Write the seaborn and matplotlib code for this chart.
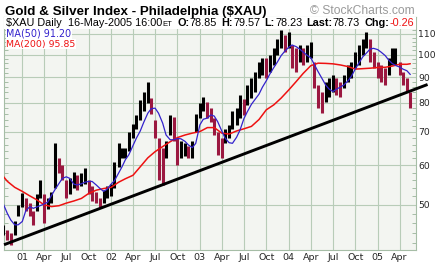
import numpy as np
import pandas as pd
import matplotlib
matplotlib.use("Agg")
import matplotlib.pyplot as plt
import matplotlib.ticker as mticker
from matplotlib.patches import Rectangle
import seaborn as sns

# ---------------- data ----------------
bar_dates = pd.date_range("2000-10-15", "2005-05-15", freq="SMS")  # half-month bars
bar_high = [45.6, 44.5, 44.0, 46.5, 50.0,
            52.8, 51.5, 50.5, 48.5, 52.5, 56.1, 52.5, 51.5, 53.0, 66.4, 62.0, 60.0,
            56.0, 56.5, 58.3, 57.5, 58.0, 59.2, 56.0, 54.5, 53.0, 51.5, 53.5, 54.5,
            55.0, 61.0, 66.4, 65.0, 65.0, 70.0, 72.5, 75.7, 81.0, 84.0, 88.3, 82.0,
            74.0, 68.0, 65.0, 67.0, 75.7, 75.0, 68.0, 67.0, 66.5, 65.5, 67.0, 76.0,
            80.0, 82.4, 80.5, 78.0, 74.6, 70.0, 68.0, 71.0, 72.3, 77.0, 78.0, 83.0,
            81.5, 86.9, 89.6, 92.4, 96.8, 98.3, 98.3, 99.8, 103.0, 107.5, 112.0, 109.5,
            111.0, 104.5, 103.0, 104.5, 103.0, 104.5, 106.0, 96.8, 87.0, 84.3, 88.0, 89.6,
            91.0, 89.6, 88.0, 91.0, 95.3, 96.8, 101.4, 104.5, 107.5, 111.0, 107.5, 101.4,
            96.8, 95.3, 93.9, 98.3, 103.0, 103.0, 96.8, 92.4, 89.6, 84.3]
bar_low = [43.5, 42.5, 41.6, 43.5, 47.5,
           49.5, 48.5, 47.5, 45.6, 48.5, 51.5, 46.0, 49.0, 50.5, 54.0, 58.0, 56.0,
           51.5, 52.5, 54.0, 53.5, 54.5, 55.0, 52.5, 51.0, 50.5, 49.5, 50.5, 51.5,
           52.0, 54.0, 59.5, 62.0, 62.0, 64.0, 68.0, 71.0, 74.0, 77.0, 80.0, 76.0,
           68.0, 56.0, 54.8, 62.0, 69.0, 67.0, 60.0, 62.0, 62.5, 62.0, 62.0, 70.0,
           74.5, 77.0, 74.5, 73.4, 69.0, 63.0, 62.0, 66.4, 68.0, 71.0, 72.3, 74.6,
           75.7, 79.3, 82.0, 84.3, 89.6, 91.0, 89.6, 92.4, 95.3, 99.8, 103.0, 101.4,
           103.0, 94.0, 92.4, 96.8, 95.3, 96.8, 98.3, 85.6, 78.0, 76.3, 80.5, 82.4,
           84.3, 83.0, 82.4, 85.6, 88.3, 89.6, 93.9, 95.3, 99.8, 103.0, 96.8, 93.9,
           89.6, 88.3, 86.9, 91.0, 95.3, 95.3, 91.0, 86.9, 84.3, 78.2]
ma50_values = [50.2, 48.0, 46.6, 45.6, 45.6, 46.3, 48.6, 49.6, 49.2, 49.5,
               49.8, 50.2, 50.6, 52.2, 53.6, 55.2, 56.5, 56.9, 56.5, 55.0,
               54.8, 55.1, 55.5, 55.7, 55.7, 54.8, 54.0, 53.2, 53.7, 55.0,
               55.9, 57.9, 59.6, 61.6, 63.0, 65.7, 68.0, 70.3, 73.1, 76.3,
               77.9, 78.1, 76.3, 72.9, 69.0, 67.5, 67.5, 67.9, 67.8, 67.0,
               65.9, 65.1, 66.4, 72.3, 74.2, 74.6, 75.7, 75.3, 73.4, 70.3,
               68.0, 66.6, 66.4, 68.3, 70.6, 74.4, 76.8, 79.5, 81.2, 83.3,
               86.0, 88.6, 91.3, 94.2, 96.5, 99.5, 101.4, 103.4, 104.5, 103.7,
               102.6, 101.1, 99.8, 98.5, 95.6, 92.4, 89.9, 86.9, 85.3, 84.3,
               85.2, 86.1, 86.9, 88.6, 90.5, 93.6, 96.0, 99.0, 100.6, 102.6,
               102.9, 102.3, 101.1, 99.5, 97.5, 96.0, 95.1, 94.4, 93.5, 92.8, 91.2]
ma200_dates = (pd.to_datetime(["2000-10-15"])
               .append(pd.date_range("2000-11-01", "2005-05-01", freq="MS"))
               .append(pd.to_datetime(["2005-05-15"])))
ma200_values = [57.0, 55.7, 54.2,
                53.2, 52.1, 51.2, 50.0, 49.6, 49.8, 50.4, 50.9, 51.5, 52.7, 53.5, 53.9,
                54.2, 55.5, 56.4, 57.3, 59.6, 62.1, 63.9, 65.4, 66.9, 68.2, 69.0, 69.6,
                70.1, 71.4, 71.4, 69.6, 69.3, 70.3, 71.0, 71.8, 74.1, 77.5, 79.3, 81.8,
                84.9, 88.3, 91.7, 95.0, 96.1, 96.0, 95.8, 95.3, 94.6, 93.5, 93.7, 93.9,
                94.2, 94.3, 94.8, 95.6, 95.6, 95.85]
trend_dates = pd.to_datetime(["2000-10-18", "2005-07-25"])
trend_values = [41.6, 87.1]
price_ticks = [50, 60, 70, 80, 90, 100, 110]
minor_ticks = [v for v in range(42, 119, 2) if v % 10 != 0]
quarter_starts = pd.date_range("2001-01-01", "2005-04-01", freq="QS")
quarter_labels = ["01", "Apr", "Jul", "Oct", "02", "Apr", "Jul", "Oct",
                  "03", "Apr", "Jul", "Oct", "04", "Apr", "Jul", "Oct", "05", "Apr"]

assert len(bar_dates) == len(bar_high) == len(bar_low) == len(ma50_values)
assert len(ma200_dates) == len(ma200_values)

# ---------------- style ----------------
sns.set_theme(style="white")
plt.rcParams["font.family"] = ["DejaVu Sans"]

GRID = "#B8CCB8"
SPINE = "#A6BDA6"
BG = "#F3F5F1"
UP = "#000000"
DOWN = "#9B1840"
BLUE = "#3322CC"
RED = "#EE1111"

W, H = 439, 265
fig = plt.figure(figsize=(W / 100, H / 100), dpi=100)
fig.patch.set_facecolor("white")
ax = fig.add_axes([4 / W, 15 / H, 412 / W, 233 / H])
ax.set_facecolor(BG)
ax.set_yscale("log")

# price bars
hi = np.array(bar_high)
lo = np.array(bar_low)
mid = (hi + lo) / 2
cols = [UP] + [UP if mid[i] >= mid[i - 1] else DOWN for i in range(1, len(mid))]
ax.vlines(bar_dates, lo, hi, colors=cols, lw=2.2, zorder=3)

# moving averages and trend line
sns.lineplot(x=ma200_dates, y=ma200_values, ax=ax, color=RED, lw=1.1, zorder=4, legend=False)
sns.lineplot(x=bar_dates, y=ma50_values, ax=ax, color=BLUE, lw=0.9, zorder=4, legend=False)
sns.lineplot(x=trend_dates, y=trend_values, ax=ax, color="black", lw=2.1, zorder=5,
             legend=False, clip_on=False, solid_capstyle="butt")

ax.set_xlim(pd.Timestamp("2000-10-17 20:00"), pd.Timestamp("2005-06-07 10:00"))
ax.set_ylim(40.6, 118.9)
ax.set_xlabel("")
ax.set_ylabel("")

# axes / ticks
ax.yaxis.tick_right()
ax.yaxis.set_major_locator(mticker.FixedLocator(price_ticks))
ax.yaxis.set_major_formatter(mticker.FixedFormatter([str(v) for v in price_ticks]))
ax.yaxis.set_minor_locator(mticker.FixedLocator(minor_ticks))
ax.yaxis.set_minor_formatter(mticker.NullFormatter())
ax.tick_params(axis="y", which="major", length=0, pad=1.8, labelsize=6.7,
               left=False, right=True, labelleft=False, labelright=True)
ax.tick_params(axis="y", which="minor", left=True, right=True, direction="in",
               length=3, width=0.7, color=SPINE)
ax.set_xticks(quarter_starts)
ax.set_xticklabels(quarter_labels)
ax.tick_params(axis="x", which="both", length=0, pad=2.2, labelsize=6.8)
ax.grid(True, which="major", axis="both", color=GRID, lw=0.8)
ax.set_axisbelow(True)
for s in ax.spines.values():
    s.set_color(SPINE)
    s.set_linewidth(0.8)

# white header band inside the chart
band = 11.5 / 233
ax.add_patch(Rectangle((0, 1 - band), 1, band, transform=ax.transAxes,
                       facecolor="white", edgecolor="none", zorder=2.6))


# ---------------- text rows ----------------
def text_row(pieces, x0, ybase, target_w, family, base=8.0):
    texts, gaps = [], []
    for txt, weight, color, rel, gap in pieces:
        t = fig.text(0, 1 - ybase / H, txt, fontsize=base * rel, fontweight=weight,
                     color=color, family=family, va="baseline", ha="left")
        texts.append(t)
        gaps.append(gap)
    for _ in range(2):
        fig.canvas.draw()
        r = fig.canvas.get_renderer()
        widths = [t.get_window_extent(r).width for t in texts]
        total = sum(widths) + sum(gaps[1:])
        k = target_w / total
        for t in texts:
            t.set_fontsize(t.get_fontsize() * k)
    fig.canvas.draw()
    r = fig.canvas.get_renderer()
    x = x0
    for i, t in enumerate(texts):
        if i > 0:
            x += gaps[i]
        t.set_x(x / W)
        x += t.get_window_extent(r).width
    return texts


text_row([("Gold & Silver Index - Philadelphia ($XAU)", "bold", "black", 1.0, 0)],
         5, 14.5, 260, ["Liberation Sans", "DejaVu Sans"], base=10)
text_row([("\u00a9 StockCharts.com", "normal", "#9A9A9A", 1.0, 0)],
         310, 14.5, 105, ["Liberation Sans", "DejaVu Sans"], base=9)
header = [("$XAU Daily", "normal", "black", 1.0, 0),
          ("16-May-2005 16:00", "normal", "black", 1.0, 6),
          ("ET", "normal", "black", 0.7, 0.5),
          ("O:", "bold", "black", 1.0, 5),
          ("78.85", "normal", "black", 1.0, 0.5),
          ("H:", "bold", "black", 1.0, 4),
          ("79.57", "normal", "black", 1.0, 0.5),
          ("L:", "bold", "black", 1.0, 4),
          ("78.23", "normal", "black", 1.0, 0.5),
          ("Last:", "bold", "black", 1.0, 4),
          ("78.73", "normal", "black", 1.0, 0.5),
          ("Chg:", "bold", "black", 1.0, 4),
          ("-0.26", "normal", RED, 1.0, 0.5)]
text_row(header, 6, 26.5, 408, ["Liberation Sans", "DejaVu Sans"], base=8)
for tt in text_row([("MA(50) 91.20", "normal", BLUE, 1.0, 0)], 6, 36.5, 65,
                   ["DejaVu Sans"], base=7):
    tt.set_bbox(dict(facecolor="white", edgecolor="none", pad=0.3))
for tt in text_row([("MA(200) 95.85", "normal", RED, 1.0, 0)], 6, 46.5, 69,
                   ["DejaVu Sans"], base=7):
    tt.set_bbox(dict(facecolor="white", edgecolor="none", pad=0.3))

fig.savefig("out.png", dpi=100, facecolor="white")
